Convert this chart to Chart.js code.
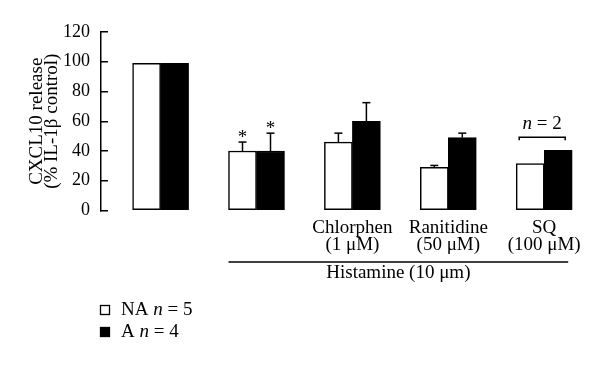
<!DOCTYPE html>
<html>
<head>
<meta charset="utf-8">
<script src="https://cdn.jsdelivr.net/npm/chart.js@4"></script>
<style>
html,body{margin:0;padding:0;background:#fff;}
canvas{display:block;}
</style>
</head>
<body>
<canvas id="c" width="600" height="365"></canvas>
<script>
// ---- data ----
const categories = [['', ''], ['', ''], ['Chlorphen', '(1 μM)'], ['Ranitidine', '(50 μM)'], ['SQ', '(100 μM)']];
const naValues = [99, 40, 46, 29, 31.5];
const aValues  = [99, 40, 60, 49, 40.5];
const naErrors = [0, 6, 6, 1.3, 0];
const aErrors  = [0, 12, 12.5, 3, 0];
const naStars  = [false, true, false, false, false];
const aStars   = [false, true, false, false, false];
const seriesLabels = [['NA ', 'n', ' = 5'], ['A ', 'n', ' = 4']];
const yTickStep = 20;
const yMin = 0, yMax = 120;
const yTitle = ['CXCL10 release', '(% IL-1β control)'];
const groupLabel = 'Histamine (10 μm)';
const groupFrom = 1, groupTo = 4;
const nNoteGroup = 4;
const nNote = ['', 'n', ' = 2'];

const FONT = '"Liberation Serif", "DejaVu Serif", serif';

function drawMixed(ctx, parts, px, py, align) {
  // parts alternate normal / italic / normal
  const fonts = parts.map((p, i) => (i % 2 === 1 ? 'italic ' : '') + '19px ' + FONT);
  const widths = parts.map((p, i) => { ctx.font = fonts[i]; return ctx.measureText(p).width; });
  const total = widths.reduce((a, b) => a + b, 0);
  let cx = align === 'left' ? px : px - total / 2;
  ctx.textAlign = 'left';
  ctx.textBaseline = 'middle';
  parts.forEach((p, i) => { ctx.font = fonts[i]; ctx.fillText(p, cx, py); cx += widths[i]; });
}

const overlay = {
  id: 'overlay',
  afterDatasetsDraw(chart) {
    const ctx = chart.ctx;
    const x = chart.scales.x, y = chart.scales.y;
    ctx.save();
    ctx.strokeStyle = '#000';
    ctx.fillStyle = '#000';
    ctx.lineWidth = 1.5;
    const line = (x1, y1, x2, y2) => { ctx.beginPath(); ctx.moveTo(x1, y1); ctx.lineTo(x2, y2); ctx.stroke(); };
    const sets = [[naValues, naErrors, naStars], [aValues, aErrors, aStars]];
    sets.forEach(([vals, errs, stars], d) => {
      const meta = chart.getDatasetMeta(d);
      meta.data.forEach((bar, i) => {
        let capY = y.getPixelForValue(vals[i]);
        if (errs[i]) {
          const top = y.getPixelForValue(vals[i]);
          capY = y.getPixelForValue(vals[i] + errs[i]);
          line(bar.x, top, bar.x, capY);
          line(bar.x - 4, capY, bar.x + 4, capY);
        }
        if (stars[i]) {
          ctx.font = '19px ' + FONT;
          ctx.textAlign = 'center';
          ctx.textBaseline = 'alphabetic';
          ctx.fillText('*', bar.x, capY + 1);
        }
      });
    });
    // n = 2 bracket
    const cx = x.getPixelForValue(nNoteGroup);
    const topY = y.getPixelForValue(Math.max(naValues[nNoteGroup], aValues[nNoteGroup])) - 13;
    const bl = cx - 25, br = cx + 21;
    ctx.beginPath();
    ctx.moveTo(bl, topY + 3); ctx.lineTo(bl, topY); ctx.lineTo(br, topY); ctx.lineTo(br, topY + 3);
    ctx.stroke();
    drawMixed(ctx, nNote, (bl + br) / 2, topY - 13);
    // Histamine bracket line
    const hx1 = x.getPixelForValue(groupFrom) - 28;
    const hx2 = x.getPixelForValue(groupTo) + 24;
    const hy = y.bottom + 51.5;
    line(hx1, hy, hx2, hy);
    ctx.font = '19px ' + FONT;
    ctx.textAlign = 'center';
    ctx.textBaseline = 'middle';
    ctx.fillText(groupLabel, (hx1 + hx2) / 2, hy + 11);
    // legend
    const ds = chart.data.datasets;
    ds.forEach((dset, k) => {
      const ly = 310 + k * 22;
      ctx.fillStyle = dset.backgroundColor;
      ctx.fillRect(100, ly - 5, 10, 10);
      ctx.lineWidth = 1.3;
      ctx.strokeRect(100.5, ly - 4.5, 9, 9);
      ctx.fillStyle = '#000';
      drawMixed(ctx, seriesLabels[k], 121, ly, 'left');
    });
    ctx.restore();
  }
};

new Chart(document.getElementById('c'), {
  type: 'bar',
  data: {
    datasets: [
      { label: 'NA', data: naValues.map((v, i) => ({ x: i, y: v })), backgroundColor: '#fff', borderColor: '#000', borderWidth: 1.5, borderSkipped: false, barThickness: 28 },
      { label: 'A',  data: aValues.map((v, i) => ({ x: i, y: v })),  backgroundColor: '#000', borderColor: '#000', borderWidth: 1.5, borderSkipped: false, barThickness: 28 }
    ]
  },
  options: {
    responsive: false,
    animation: false,
    layout: { padding: { left: 0, right: 10, top: 32, bottom: 102.5 } },
    plugins: { legend: { display: false }, tooltip: { enabled: false } },
    scales: {
      x: {
        type: 'linear', min: -0.6215, max: 4.4776, offset: false,
        grid: { display: false, drawTicks: false },
        border: { display: false },
        ticks: {
          stepSize: 1, includeBounds: false, autoSkip: false, maxRotation: 0, minRotation: 0,
          padding: 9, color: '#000',
          font: { family: FONT, size: 19, lineHeight: '17px' },
          callback: (v) => (Number.isInteger(v) && categories[v]) ? categories[v] : ''
        }
      },
      y: {
        min: yMin, max: yMax,
        grid: { display: true, drawOnChartArea: false, drawTicks: true, tickLength: -7, color: '#000', lineWidth: 1.5 },
        border: { display: true, color: '#000', width: 1.5 },
        ticks: { stepSize: yTickStep, padding: 18, color: '#000', font: { family: FONT, size: 18 } },
        title: { display: true, text: yTitle, color: '#000', font: { family: FONT, size: 19, lineHeight: '15px' }, padding: { top: 29.5, bottom: 0 } },
        afterFit: (s) => { s.width = 101; }
      }
    }
  },
  plugins: [overlay]
});
</script>
</body>
</html>
